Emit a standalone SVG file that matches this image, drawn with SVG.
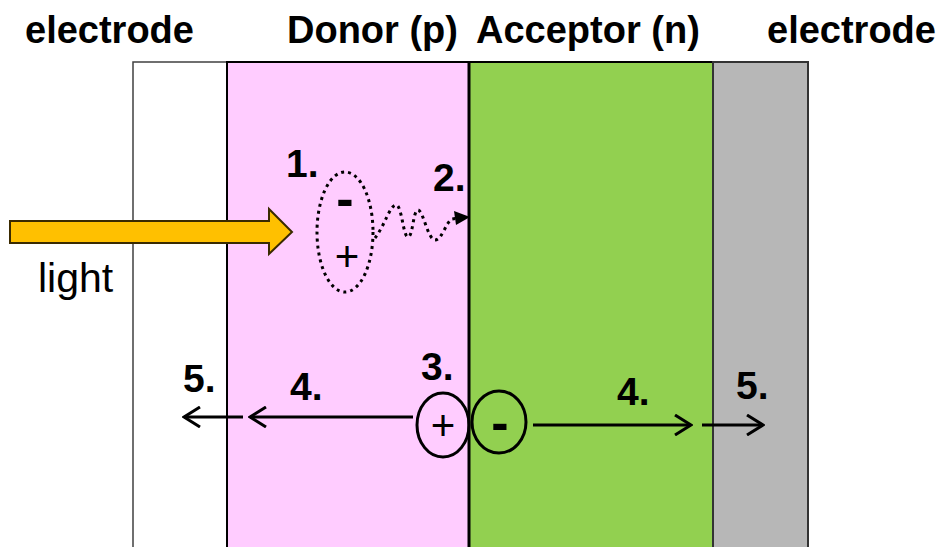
<svg xmlns="http://www.w3.org/2000/svg" width="936" height="547" viewBox="0 0 936 547">
<style>
.hdr{font-family:"Liberation Sans",Arial,sans-serif;font-weight:bold;font-size:38px;fill:#000}
.num{font-family:"Liberation Sans",Arial,sans-serif;font-weight:bold;font-size:39px;fill:#000}
.reg{font-family:"Liberation Sans",Arial,sans-serif;font-size:41px;fill:#000}
.sign{font-family:"Liberation Sans",Arial,sans-serif;font-size:42px;fill:#000;text-anchor:middle}
.signb{font-family:"Liberation Sans",Arial,sans-serif;font-weight:bold;font-size:52px;fill:#000;text-anchor:middle}
.arr{stroke:#000;stroke-width:3;fill:none}
.dot{stroke:#000;stroke-width:3;fill:none;stroke-dasharray:3 4}
.ring{stroke:#000;stroke-width:3;fill:none}
</style>
<defs>
<marker id="chev" viewBox="0 0 20 22" markerWidth="20" markerHeight="22" refX="18" refY="11" orient="auto" markerUnits="userSpaceOnUse">
<path d="M2,1 L18,11 L2,21" fill="none" stroke="#000" stroke-width="3"/>
</marker>
</defs>
<rect width="936" height="547" fill="#fff"/>
<g id="electrode-left">
<rect x="133" y="62" width="94" height="500" fill="#fff" stroke="#404040" stroke-width="1.5"/>
</g>
<g id="donor">
<rect x="227" y="62" width="242" height="500" fill="#FFCCFF" stroke="#000" stroke-width="2"/>
</g>
<g id="acceptor">
<rect x="469" y="62" width="244" height="500" fill="#92D050" stroke="#000" stroke-width="2"/>
</g>
<g id="electrode-right">
<rect x="713" y="62" width="95" height="500" fill="#B7B7B7" stroke="#333" stroke-width="2"/>
</g>
<line x1="469" y1="62" x2="469" y2="547" stroke="#000" stroke-width="3"/>
<g id="headers">
<text class="hdr" x="25" y="43">electrode</text>
<text class="hdr" x="287" y="43">Donor (p)</text>
<text class="hdr" x="476" y="43">Acceptor (n)</text>
<text class="hdr" x="767" y="43">electrode</text>
</g>
<g id="light">
<path d="M10,221 L269,221 L269,209 L292,232 L269,254 L269,243 L10,243 Z" fill="#FFC000" stroke="#3a2a00" stroke-width="2"/>
<text class="reg" x="38" y="292">light</text>
</g>
<g id="exciton">
<ellipse class="dot" cx="345" cy="232" rx="28" ry="60"/>
<text class="signb" x="345" y="216">-</text>
<text class="sign" x="347" y="271">+</text>
</g>
<g id="hole">
<ellipse class="ring" cx="443" cy="425" rx="26" ry="32"/>
<text class="sign" x="443" y="440">+</text>
</g>
<g id="electron">
<ellipse class="ring" cx="499" cy="422" rx="27" ry="31"/>
<text class="signb" x="500" y="440">-</text>
</g>
<g id="connectors">
<path class="dot" d="M375,238 C385,225 390,205 396,205 C402,205 403,237 408,237 C413,237 413,210 418,210 C423,210 428,240 435,240 C442,240 446,222 452,219 L458,218"/>
<polygon points="454,211 470,217 456,225" fill="#000"/>
<line class="arr" x1="413" y1="417" x2="250" y2="417" marker-end="url(#chev)"/>
<line class="arr" x1="243" y1="417" x2="184" y2="417" marker-end="url(#chev)"/>
<line class="arr" x1="533" y1="425" x2="691" y2="425" marker-end="url(#chev)"/>
<line class="arr" x1="702" y1="425" x2="763" y2="425" marker-end="url(#chev)"/>
</g>
<g id="labels">
<text class="num" x="286" y="177">1.</text>
<text class="num" x="433" y="191">2.</text>
<text class="num" x="421" y="380">3.</text>
<text class="num" x="290" y="400">4.</text>
<text class="num" x="183" y="392">5.</text>
<text class="num" x="617" y="405">4.</text>
<text class="num" x="736" y="399">5.</text>
</g>
</svg>
